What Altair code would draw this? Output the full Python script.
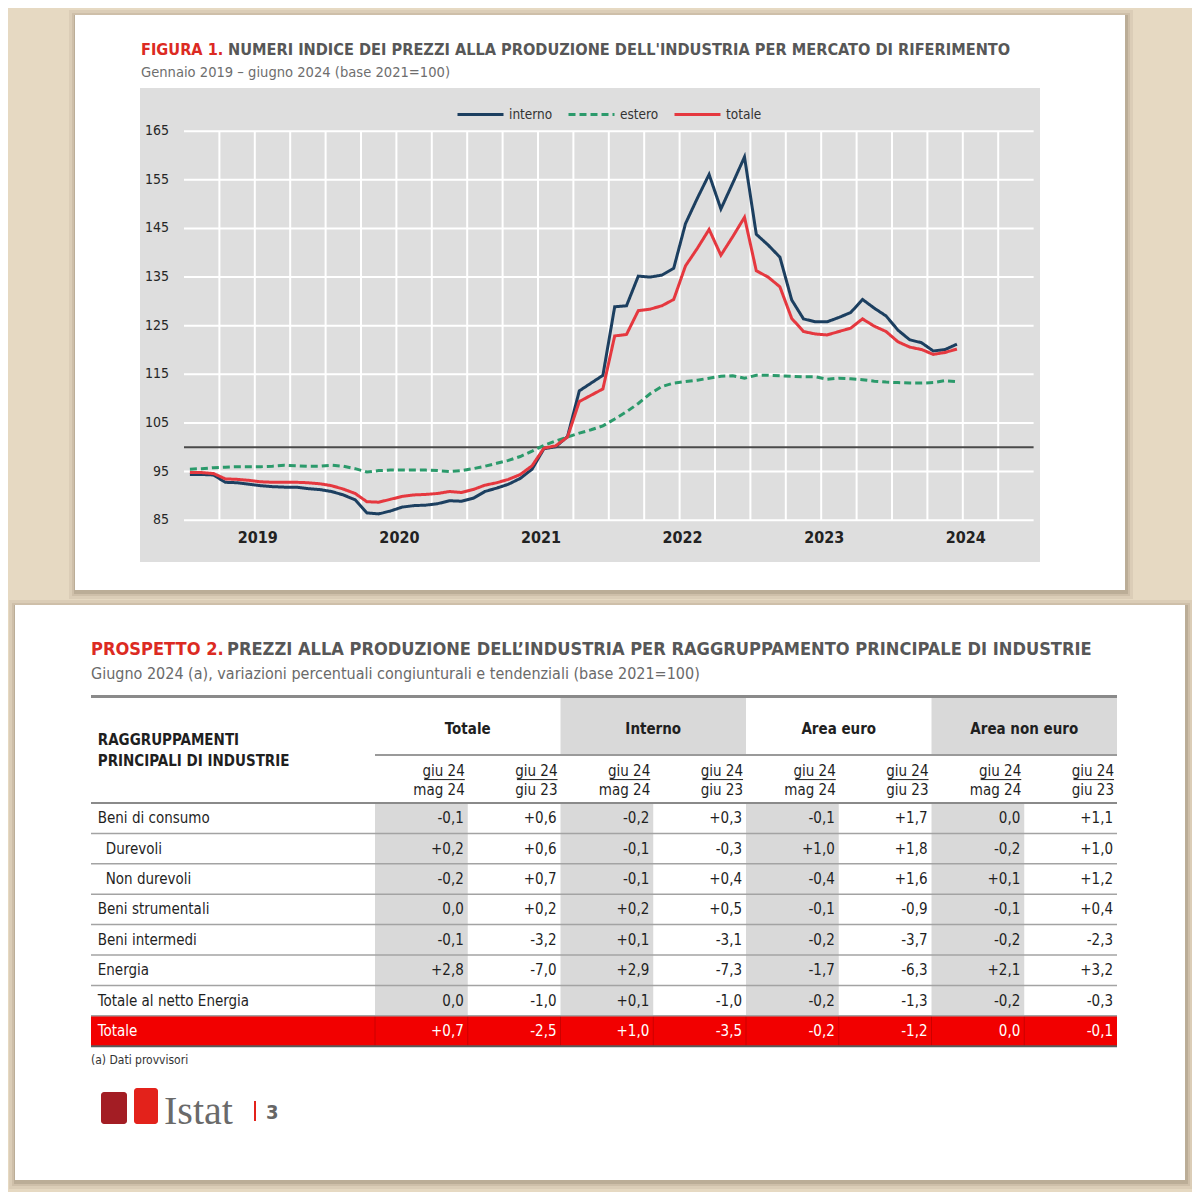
import altair as alt
import pandas as pd

# ---------------- FIGURA 1 data ----------------
serie_names = ["interno", "estero", "totale"]
mesi = [f"{2019 + k // 12}-{k % 12 + 1:02d}" for k in range(66)]
interno = [94.4, 94.4, 94.3, 92.8, 92.7, 92.4, 92.1, 91.9, 91.8, 91.8, 91.5, 91.3,
           90.9, 90.2, 89.2, 86.5, 86.3, 86.9, 87.7, 88.0, 88.1, 88.4, 89.0, 88.9,
           89.5, 90.9, 91.6, 92.4, 93.6, 95.5, 99.7, 100.1, 102.2, 111.6, 113.2, 114.8,
           128.9, 129.1, 135.2, 135.0, 135.4, 136.8, 146.0, 151.2, 156.1, 149.0, 154.3, 159.7,
           143.8, 141.6, 139.1, 130.3, 126.4, 125.8, 125.8, 126.7, 127.7, 130.4, 128.6, 127.0,
           124.1, 122.1, 121.5, 119.8, 120.1, 121.2]
estero = [95.5, 95.6, 95.8, 95.9, 96.0, 96.0, 96.0, 96.1, 96.3, 96.2, 96.1, 96.1,
          96.3, 96.1, 95.6, 94.9, 95.2, 95.3, 95.3, 95.3, 95.3, 95.2, 95.0, 95.2,
          95.6, 96.1, 96.7, 97.3, 98.1, 99.2, 100.4, 101.3, 102.1, 102.9, 103.6, 104.4,
          105.8, 107.3, 109.0, 111.0, 112.5, 113.2, 113.5, 113.8, 114.2, 114.6, 114.7, 114.2,
          114.8, 114.8, 114.7, 114.6, 114.5, 114.5, 114.0, 114.2, 114.1, 113.9, 113.6, 113.4,
          113.3, 113.2, 113.2, 113.3, 113.7, 113.5]
totale = [94.8, 94.8, 94.6, 93.5, 93.4, 93.2, 92.9, 92.8, 92.8, 92.8, 92.7, 92.5,
          92.1, 91.4, 90.5, 88.8, 88.7, 89.3, 89.9, 90.2, 90.3, 90.5, 90.9, 90.7,
          91.3, 92.2, 92.7, 93.4, 94.4, 96.2, 99.8, 100.3, 102.1, 109.4, 110.7, 112.0,
          122.9, 123.2, 128.1, 128.4, 129.1, 130.4, 137.3, 140.9, 144.8, 139.5, 143.3, 147.3,
          136.3, 135.0, 133.0, 126.5, 123.8, 123.3, 123.1, 123.8, 124.5, 126.4, 124.9, 123.8,
          121.7, 120.6, 120.1, 119.1, 119.5, 120.2]
y_ticks = [85, 95, 105, 115, 125, 135, 145, 155, 165]
year_labels = ["2019", "2020", "2021", "2022", "2023", "2024"]

# ---------------- PROSPETTO 2 data ----------------
row_labels = ["Beni di consumo", "Durevoli", "Non durevoli", "Beni strumentali",
              "Beni intermedi", "Energia", "Totale al netto Energia", "Totale"]
row_indent = [0, 1, 1, 0, 0, 0, 0, 0]
group_labels = ["Totale", "Interno", "Area euro", "Area non euro"]
sub_top = ["giu 24"] * 8
sub_bottom = ["mag 24", "giu 23"] * 4
tot_mm = [-0.1, 0.2, -0.2, 0.0, -0.1, 2.8, 0.0, 0.7]
tot_yy = [0.6, 0.6, 0.7, 0.2, -3.2, -7.0, -1.0, -2.5]
int_mm = [-0.2, -0.1, -0.1, 0.2, 0.1, 2.9, 0.1, 1.0]
int_yy = [0.3, -0.3, 0.4, 0.5, -3.1, -7.3, -1.0, -3.5]
eur_mm = [-0.1, 1.0, -0.4, -0.1, -0.2, -1.7, -0.2, -0.2]
eur_yy = [1.7, 1.8, 1.6, -0.9, -3.7, -6.3, -1.3, -1.2]
neu_mm = [0.0, -0.2, 0.1, -0.1, -0.2, 2.1, -0.2, 0.0]
neu_yy = [1.1, 1.0, 1.2, 0.4, -2.3, 3.2, -0.3, -0.1]
table_columns = [tot_mm, tot_yy, int_mm, int_yy, eur_mm, eur_yy, neu_mm, neu_yy]

# ---------------- styles ----------------
FONT = "Liberation Sans Narrow, Arial Narrow, DejaVu Sans Condensed, sans-serif"
SERIF = "Liberation Serif, DejaVu Serif, serif"
BG = "#e6d9c2"
RED_T = "#dc2a22"
GRAY_T = "#575757"
C_INT = "#1c3f60"
C_EST = "#2b9a6b"
C_TOT = "#e5383f"
TXT = "#1f1f1f"
TS = 15  # table font size
O = 8


def P(v):
    return v - O


one = pd.DataFrame({"k": [0]})


def rect(x1, y1, x2, y2, color, opacity=1.0, radius=0):
    return alt.Chart(one).mark_rect(color=color, opacity=opacity, cornerRadius=radius).encode(
        x=alt.value(P(x1)), x2=alt.value(P(x2)), y=alt.value(P(y1)), y2=alt.value(P(y2)))


def label(txt, x, y, size, color, weight="normal", align="left", font=FONT):
    return alt.Chart(one).mark_text(text=txt, fontSize=size, color=color, fontWeight=weight,
                                    align=align, baseline="middle", font=font).encode(
        x=alt.value(P(x)), y=alt.value(P(y)))


layers = []

# panels with soft shadows
for (x1, y1, x2, y2) in [(75, 15, 1125, 590), (15, 605, 1185, 1180)]:
    for d, op in [(7, 0.10), (4, 0.14), (2, 0.22)]:
        layers.append(rect(x1 - d + 1, y1 - d + 2, x2 + d + 1, y2 + d + 2, "#7d6d55", op))
    layers.append(rect(x1, y1, x2, y2, "white"))

# ---------------- figure ----------------
layers.append(rect(140, 88, 1040, 562, "#dedede"))

XS = alt.Scale(domain=[-0.5, 71.5], range=[P(184), P(1033.6)], nice=False, zero=False)
YS = alt.Scale(domain=[85, 165], range=[P(520.2), P(131.2)], nice=False, zero=False)

hgrid = alt.Chart(pd.DataFrame({"v": y_ticks})).mark_rule(color="white", strokeWidth=2).encode(
    y=alt.Y("v:Q", scale=YS, axis=None),
    x=alt.XDatum(-0.5, type="quantitative", scale=XS, axis=None),
    x2=alt.X2Datum(71.5))
bounds = [2.5 + 3 * k for k in range(23)]
vgrid = alt.Chart(pd.DataFrame({"b": bounds})).mark_rule(color="white", strokeWidth=2).encode(
    x=alt.X("b:Q", scale=XS, axis=None),
    y=alt.YDatum(85, type="quantitative", scale=YS, axis=None),
    y2=alt.Y2Datum(165))
ref = alt.Chart(one).mark_rule(color="#4a4a4a", strokeWidth=2).encode(
    y=alt.YDatum(100, type="quantitative", scale=YS, axis=None),
    x=alt.XDatum(-0.5, type="quantitative", scale=XS, axis=None),
    x2=alt.X2Datum(71.5))

df_lines = pd.DataFrame({
    "i": list(range(66)) * 3,
    "mese": mesi * 3,
    "serie": ["interno"] * 66 + ["estero"] * 66 + ["totale"] * 66,
    "valore": interno + estero + totale,
})
LEG = alt.Legend(orient="none", legendX=P(456), legendY=P(90), direction="horizontal",
                 title=None, symbolType="stroke", symbolSize=2116, symbolStrokeWidth=3,
                 labelFont=FONT, labelFontSize=13.5, labelColor="#333333", columnPadding=9,
                 labelOffset=4, padding=0)
lines = alt.Chart(df_lines).mark_line(strokeWidth=3).encode(
    x=alt.X("i:Q", scale=XS, axis=None),
    y=alt.Y("valore:Q", scale=YS, axis=None),
    color=alt.Color("serie:N", scale=alt.Scale(domain=serie_names, range=[C_INT, C_EST, C_TOT]),
                    legend=LEG),
    strokeDash=alt.StrokeDash("serie:N", scale=alt.Scale(domain=serie_names,
                                                         range=[[1, 0], [7, 4], [1, 0]]),
                              legend=LEG),
)
ylab = alt.Chart(pd.DataFrame({"v": y_ticks, "t": [str(v) for v in y_ticks]})).mark_text(
    font=FONT, fontSize=14, color="#262626", align="right", baseline="middle").encode(
    x=alt.value(P(169)), y=alt.Y("v:Q", scale=YS, axis=None), text="t:N")
xlab = alt.Chart(pd.DataFrame({"pos": [5.5 + 12 * k for k in range(len(year_labels))],
                               "t": year_labels})).mark_text(
    font=FONT, fontSize=16, fontWeight="bold", color="#222222", align="center",
    baseline="middle", dx=3).encode(
    x=alt.X("pos:Q", scale=XS, axis=None), y=alt.value(P(538)), text="t:N")
layers += [hgrid, vgrid, ref, lines, ylab, xlab]

layers.append(label("FIGURA 1.", 141, 50, 16.2, RED_T, "bold"))
layers.append(label("NUMERI INDICE DEI PREZZI ALLA PRODUZIONE DELL'INDUSTRIA PER MERCATO DI RIFERIMENTO",
                    228, 50, 16.2, GRAY_T, "bold"))
layers.append(label("Gennaio 2019 \u2013 giugno 2024 (base 2021=100)", 141, 73, 14.6, "#6e6e6e"))

# ---------------- table ----------------
layers.append(label("PROSPETTO 2.", 91, 650, 18.1, RED_T, "bold"))
layers.append(label("PREZZI ALLA PRODUZIONE DELL\u2019INDUSTRIA PER RAGGRUPPAMENTO PRINCIPALE DI INDUSTRIE",
                    227, 650, 18.1, GRAY_T, "bold"))
layers.append(label("Giugno 2024 (a), variazioni percentuali congiunturali e tendenziali (base 2021=100)",
                    91, 674, 16, "#6a6a6a"))

TXS = alt.Scale(domain=[0, 11], range=[P(96.75), P(1117)], nice=False, zero=False)
TYS = alt.Scale(domain=[-3.5, 8], range=[P(696.6), P(1046.2)], nice=False, zero=False)
X_LEFT = -0.062
GL = -1.58


def trect(df, color):
    return alt.Chart(df).mark_rect(color=color).encode(
        x=alt.X("x0:Q", scale=TXS, axis=None), x2="x1:Q",
        y=alt.Y("y0:Q", scale=TYS, axis=None), y2="y1:Q")


def hline(yv, x0, x1, color, w):
    return alt.Chart(one).mark_rule(color=color, strokeWidth=w).encode(
        y=alt.YDatum(yv, type="quantitative", scale=TYS, axis=None),
        x=alt.XDatum(x0, type="quantitative", scale=TXS, axis=None),
        x2=alt.X2Datum(x1))


shade_groups = pd.DataFrame({"x0": [3 + 2 * g for g in (1, 3)], "x1": [5 + 2 * g for g in (1, 3)],
                             "y0": [-3.5, -3.5], "y1": [GL, GL]})
shade_cols = pd.DataFrame({"x0": [3 + j for j in (0, 2, 4, 6)], "x1": [4 + j for j in (0, 2, 4, 6)],
                           "y0": [0] * 4, "y1": [7] * 4})
red_row = pd.DataFrame({"x0": [X_LEFT], "x1": [11], "y0": [7], "y1": [8]})
layers += [trect(shade_groups, "#d9d9d9"), trect(shade_cols, "#d9d9d9"), trect(red_row, "#f20000")]

sep = alt.Chart(pd.DataFrame({"b": [3 + j for j in range(8)]})).mark_rule(
    color="#b00000", strokeWidth=1, opacity=0.6).encode(
    x=alt.X("b:Q", scale=TXS, axis=None),
    y=alt.YDatum(7, type="quantitative", scale=TYS, axis=None), y2=alt.Y2Datum(8))
layers.append(sep)

layers.append(hline(-3.5, X_LEFT, 11, "#8a8a8a", 3))
layers.append(hline(GL, 3, 11, "#9a9a9a", 2))
layers.append(hline(0, X_LEFT, 11, "#8a8a8a", 2))
for r in range(1, 8):
    layers.append(hline(r, X_LEFT, 11, "#a3a3a3", 1.5))
layers.append(hline(8, X_LEFT, 11, "#5a5a5a", 2))


def ttext(df, yfield_or_datum, color=TXT, weight="normal", align="right", dx=-4, size=TS):
    ych = (alt.Y(yfield_or_datum, scale=TYS, axis=None) if isinstance(yfield_or_datum, str)
           else alt.YDatum(yfield_or_datum, type="quantitative", scale=TYS, axis=None))
    return alt.Chart(df).mark_text(font=FONT, fontSize=size, color=color, fontWeight=weight,
                                   align=align, baseline="middle", dx=dx).encode(
        x=alt.X("xx:Q", scale=TXS, axis=None), y=ych, text="t:N")


# header texts
layers.append(ttext(pd.DataFrame({"xx": [4 + 2 * g for g in range(4)], "t": group_labels}),
                    -2.43, weight="bold", align="center", dx=0))
layers.append(ttext(pd.DataFrame({"xx": [0], "t": ["RAGGRUPPAMENTI"]}), -2.07,
                    weight="bold", align="left", dx=1))
layers.append(ttext(pd.DataFrame({"xx": [0], "t": ["PRINCIPALI DI INDUSTRIE"]}), -1.38,
                    weight="bold", align="left", dx=1))
layers.append(ttext(pd.DataFrame({"xx": [4 + j for j in range(8)], "t": sub_top}), -1.05, dx=-3))
layers.append(ttext(pd.DataFrame({"xx": [4 + j for j in range(8)], "t": sub_bottom}), -0.43, dx=-3))
uline = alt.Chart(pd.DataFrame({"u0": [4 + j - 0.47 for j in range(8)],
                                "u1": [4 + j - 0.032 for j in range(8)]})).mark_rule(
    color=TXT, strokeWidth=1).encode(
    x=alt.X("u0:Q", scale=TXS, axis=None), x2="u1:Q",
    y=alt.YDatum(-0.77, type="quantitative", scale=TYS, axis=None))
layers.append(uline)


def fmt(v):
    if v == 0:
        return "0,0"
    return f"{v:+.1f}".replace(".", ",")


vals = []
for j, col in enumerate(table_columns):
    for r, v in enumerate(col):
        vals.append({"xx": 4 + j, "yc": r + 0.5, "t": fmt(v), "r": r})
dv = pd.DataFrame(vals)
layers.append(ttext(dv[dv.r < 7], "yc:Q"))
layers.append(ttext(dv[dv.r == 7], "yc:Q", color="white"))

rl = pd.DataFrame({"xx": [0] * 8, "yc": [r + 0.5 for r in range(8)], "t": row_labels,
                   "ind": row_indent, "r": list(range(8))})
layers.append(ttext(rl[(rl.ind == 0) & (rl.r < 7)], "yc:Q", align="left", dx=1))
layers.append(ttext(rl[rl.ind == 1], "yc:Q", align="left", dx=9))
layers.append(ttext(rl[rl.r == 7], "yc:Q", color="white", align="left", dx=1))

layers.append(label("(a) Dati provvisori", 91, 1060, 12, "#333333"))

# logo
layers.append(rect(101, 1092, 127, 1124, "#a31d24", radius=3))
layers.append(rect(134, 1088, 158, 1124, "#e3221b", radius=3))
layers.append(alt.Chart(one).mark_text(text="Istat", font=SERIF, fontSize=40, color="#6a6a6a",
                                       align="left", baseline="alphabetic").encode(
    x=alt.value(P(164)), y=alt.value(P(1124))))
layers.append(rect(254, 1101, 256, 1121, "#e3221b"))
layers.append(alt.Chart(one).mark_text(text="3", font=FONT, fontSize=20, color="#666666",
                                       fontWeight="bold", align="left", baseline="alphabetic").encode(
    x=alt.value(P(266)), y=alt.value(P(1119))))

chart = alt.layer(*layers).resolve_scale(x="independent", y="independent").properties(
    width=1184, height=1184, padding=0, background=BG,
    autosize=alt.AutoSizeParams(type="none")).configure_view(stroke=None)

chart.save("out.html", embed_options={"renderer": "svg", "actions": False})
